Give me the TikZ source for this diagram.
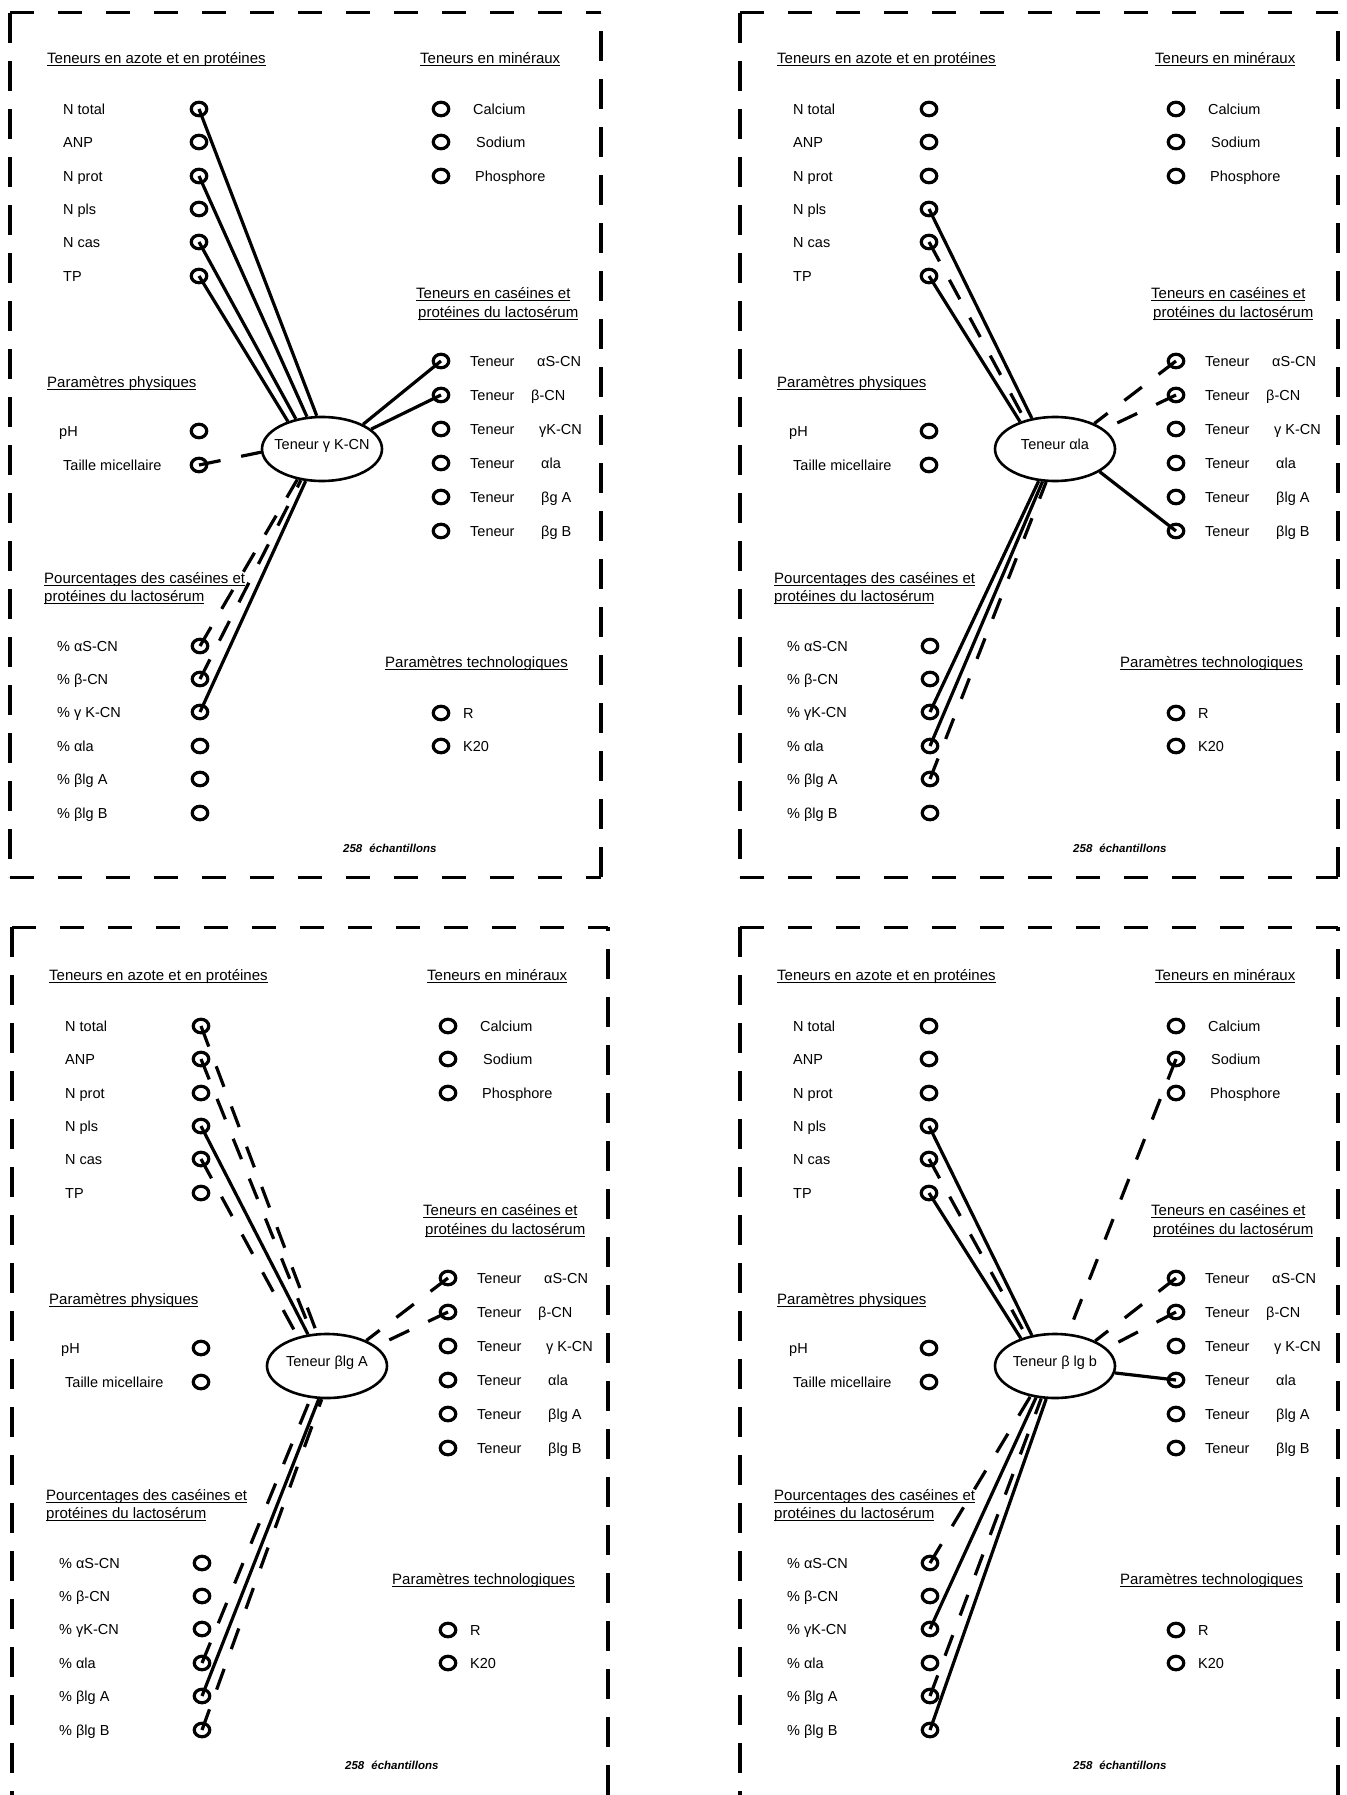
\documentclass[tikz,border=0pt]{standalone}
\usepackage{fontspec}
\setmainfont{Liberation Sans}
\usetikzlibrary{shapes.geometric}
\tikzset{
    rond/.style = {draw, ellipse, line width=3.2pt,
        minimum width=15.5pt,
        minimum height=13.5pt, inner sep=0pt},
    cible/.style = {draw, ellipse, line width=2.6pt,
        minimum width=120pt,
        minimum height=64pt, inner sep=0pt,
        text height=0pt, text depth=0pt,
        font=\fontsize{14.5}{17}\selectfont},
    lbl/.style = {anchor=base west, inner sep=0pt, yshift=-5.3pt,
        font=\fontsize{14.5}{17}\selectfont},
    titre/.style = {lbl, font=\fontsize{15}{18}\selectfont},
    trait/.style = {line width=3.2pt},
    tiret/.style = {line width=3.2pt, dash pattern=on 22pt off 21pt},
    cadreh/.style = {line width=3pt, dash pattern=on 24pt off 24pt},
    cadrev/.style = {line width=3.4pt, dash pattern=on 30pt off 18pt}
}
\newcommand{\souligne}[1]{\setbox0\hbox{#1}\rlap{\rule[-2.2pt]{\wd0}{0.9pt}}\box0}
% #1 prefixe, #2 decalage colonne droite, #3 ellipse, #4 blg, #5 gK teneur, #6 gK pourcentage
\newcommand{\tableau}[6]{%
    % Teneurs en azote et en proteines
    \node[titre] (#1-t1) at (47,58) {\souligne{Teneurs en azote et en protéines}};
    \node[lbl] (#1-lntot) at (63,109) {N total};
    \node[lbl] (#1-lanp) at (63,142) {ANP};
    \node[lbl] (#1-lnprot) at (63,176) {N prot};
    \node[lbl] (#1-lnpls) at (63,209) {N pls};
    \node[lbl] (#1-lncas) at (63,242) {N cas};
    \node[lbl] (#1-ltp) at (63,276) {TP};
    \node[rond] (#1-ntot) at (199,109) {};
    \node[rond] (#1-anp) at (199,142) {};
    \node[rond] (#1-nprot) at (199,176) {};
    \node[rond] (#1-npls) at (199,209) {};
    \node[rond] (#1-ncas) at (199,242) {};
    \node[rond] (#1-tp) at (199,276) {};
    % Teneurs en mineraux
    \node[titre] (#1-t2) at ({420+#2},58) {\souligne{Teneurs en minéraux}};
    \node[rond] (#1-ca) at ({441+#2},109) {};
    \node[rond] (#1-na) at ({441+#2},142) {};
    \node[rond] (#1-ph) at ({441+#2},176) {};
    \node[lbl] (#1-lca) at ({473+#2},109) {Calcium};
    \node[lbl] (#1-lna) at ({476+#2},142) {Sodium};
    \node[lbl] (#1-lph) at ({475+#2},176) {Phosphore};
    % Teneurs en caseines
    \node[titre] (#1-t3a) at ({416+#2},293) {\souligne{Teneurs en caséines et}};
    \node[titre] (#1-t3b) at ({418+#2},312) {\souligne{protéines du lactosérum}};
    \node[rond] (#1-tas) at ({441+#2},361) {};
    \node[rond] (#1-tb) at ({441+#2},395) {};
    \node[rond] (#1-tg) at ({441+#2},429) {};
    \node[rond] (#1-tala) at ({441+#2},463) {};
    \node[rond] (#1-tba) at ({441+#2},497) {};
    \node[rond] (#1-tbb) at ({441+#2},531) {};
    \node[lbl] (#1-ltas) at ({470+#2},361) {\makebox[67pt][l]{Teneur}αS-CN};
    \node[lbl] (#1-ltb) at ({470+#2},395) {\makebox[61pt][l]{Teneur}β-CN};
    \node[lbl] (#1-ltg) at ({470+#2},429) {\makebox[69pt][l]{Teneur}#5};
    \node[lbl] (#1-ltala) at ({470+#2},463) {\makebox[71pt][l]{Teneur}αla};
    \node[lbl] (#1-ltba) at ({470+#2},497) {\makebox[71pt][l]{Teneur}#4 A};
    \node[lbl] (#1-ltbb) at ({470+#2},531) {\makebox[71pt][l]{Teneur}#4 B};
    % Parametres physiques
    \node[titre] (#1-t4) at (47,382) {\souligne{Paramètres physiques}};
    \node[lbl] (#1-lpH) at (59,431) {pH};
    \node[lbl] (#1-ltaille) at (63,465) {Taille micellaire};
    \node[rond] (#1-pH) at (199,431) {};
    \node[rond] (#1-taille) at (199,465) {};
    % ellipse centrale
    \node[cible] (#1-E) at ({322+0.6*#2},449) {\makebox[0pt]{#3}};
    % Pourcentages
    \node[titre] (#1-t5a) at (44,578) {\souligne{Pourcentages des caséines et}};
    \node[titre] (#1-t5b) at (44,596) {\souligne{protéines du lactosérum}};
    \node[lbl] (#1-lpas) at (57,646) {\%~αS-CN};
    \node[lbl] (#1-lpb) at (57,679) {\%~β-CN};
    \node[lbl] (#1-lpg) at (57,712) {\%~#6};
    \node[lbl] (#1-lpala) at (57,746) {\%~αla};
    \node[lbl] (#1-lpba) at (57,779) {\%~βlg A};
    \node[lbl] (#1-lpbb) at (57,813) {\%~βlg B};
    \node[rond] (#1-pas) at (200,646) {};
    \node[rond] (#1-pb) at (200,679) {};
    \node[rond] (#1-pg) at (200,712) {};
    \node[rond] (#1-pala) at (200,746) {};
    \node[rond] (#1-pba) at (200,779) {};
    \node[rond] (#1-pbb) at (200,813) {};
    % Parametres technologiques
    \node[titre] (#1-t6) at ({385+#2},662) {\souligne{Paramètres technologiques}};
    \node[rond] (#1-r) at ({441+#2},713) {};
    \node[rond] (#1-k) at ({441+#2},746) {};
    \node[lbl] (#1-lr) at ({463+#2},713) {R};
    \node[lbl] (#1-lk) at ({463+#2},746) {K20};
    \node[lbl, font=\fontsize{11.5}{14}\selectfont\bfseries\itshape] (#1-ech) at (343,847) {258\hspace{7pt}échantillons};
}

\begin{document}
\begin{tikzpicture}[x=1pt, y=-1pt]
\useasboundingbox (0,0) rectangle (1346,1795);

% Teneur gK-CN
\tableau{a}{0}{Teneur γ K-CN}{βg}{γK-CN}{γ K-CN}
\draw[trait] (a-ntot.center) -- (a-E.99);
\draw[trait] (a-nprot.center) -- (a-E.115);
\draw[trait] (a-ncas.center) -- (a-E.131);
\draw[trait] (a-tp.center) -- (a-E.141);
\draw[trait] (a-tas.center) -- (a-E.31);
\draw[trait] (a-tb.center) -- (a-E.22);
\draw[tiret] (a-taille.center) -- (a-E.183);
\draw[tiret] (a-pas.center) -- (a-E.231);
\draw[tiret] (a-pb.center) -- (a-E.236);
\draw[trait] (a-pg.center) -- (a-E.243);

% Teneur ala
\begin{scope}[shift={(730,0)}]
\tableau{b}{5}{Teneur αla}{βlg}{γ K-CN}{γK-CN}
\end{scope}
\draw[trait] (b-npls.center) -- (b-E.127);
\draw[tiret] (b-ncas.center) -- (b-E.136);
\draw[trait] (b-tp.center) -- (b-E.142);
\draw[tiret] (b-tas.center) -- (b-E.33);
\draw[tiret] (b-tb.center) -- (b-E.22);
\draw[trait] (b-tbb.center) -- (b-E.333);
\draw[trait] (b-pg.center) -- (b-E.243);
\draw[trait] (b-pala.center) -- (b-E.249);
\draw[tiret] (b-pba.center) -- (b-E.255);

% Teneur blg A
\begin{scope}[shift={(2,917)}]
\tableau{c}{5}{Teneur βlg A}{βlg}{γ K-CN}{γK-CN}
\end{scope}
\draw[tiret] (c-ntot.center) -- (c-E.107);
\draw[tiret] (c-anp.center) -- (c-E.115);
\draw[trait] (c-npls.center) -- (c-E.121);
\draw[tiret] (c-ncas.center) -- (c-E.135);
\draw[tiret] (c-tas.center) -- (c-E.33);
\draw[tiret] (c-tb.center) -- (c-E.22);
\draw[tiret] (c-pala.center) -- (c-E.243);
\draw[trait] (c-pba.center) -- (c-E.256);
\draw[tiret] (c-pbb.center) -- (c-E.261);

% Teneur blg b
\begin{scope}[shift={(730,917)}]
\tableau{d}{5}{Teneur β lg b}{βlg}{γ K-CN}{γK-CN}
\end{scope}
\draw[trait] (d-npls.center) -- (d-E.127);
\draw[tiret] (d-ncas.center) -- (d-E.134);
\draw[trait] (d-tp.center) -- (d-E.141);
\draw[tiret] (d-na.center) -- (d-E.68);
\draw[tiret] (d-tas.center) -- (d-E.32);
\draw[tiret] (d-tb.center) -- (d-E.19);
\draw[trait] (d-tala.center) -- (d-E);
\draw[tiret] (d-pas.center) -- (d-E.231);
\draw[trait] (d-pg.center) -- (d-E.239);
\draw[tiret] (d-pba.center) -- (d-E.247);
\draw[trait] (d-pbb.center) -- (d-E.255);

% cadres
\draw[cadreh] (10,13) -- (601,13);
\draw[cadreh] (10,877) -- (601,877);
\draw[cadrev] (10,13) -- (10,877);
\draw[cadrev] (601,877) -- (601,13);
\draw[cadreh] (740,13) -- (1338,13);
\draw[cadreh] (740,877) -- (1338,877);
\draw[cadrev] (740,13) -- (740,877);
\draw[cadrev] (1338,877) -- (1338,13);
\draw[cadreh] (12,927) -- (608,927);
\draw[cadrev] (12,927) -- (12,1795);
\draw[cadrev] (608,1795) -- (608,927);
\draw[cadreh] (740,927) -- (1338,927);
\draw[cadrev] (740,927) -- (740,1795);
\draw[cadrev] (1338,1795) -- (1338,927);
\end{tikzpicture}
\end{document}
